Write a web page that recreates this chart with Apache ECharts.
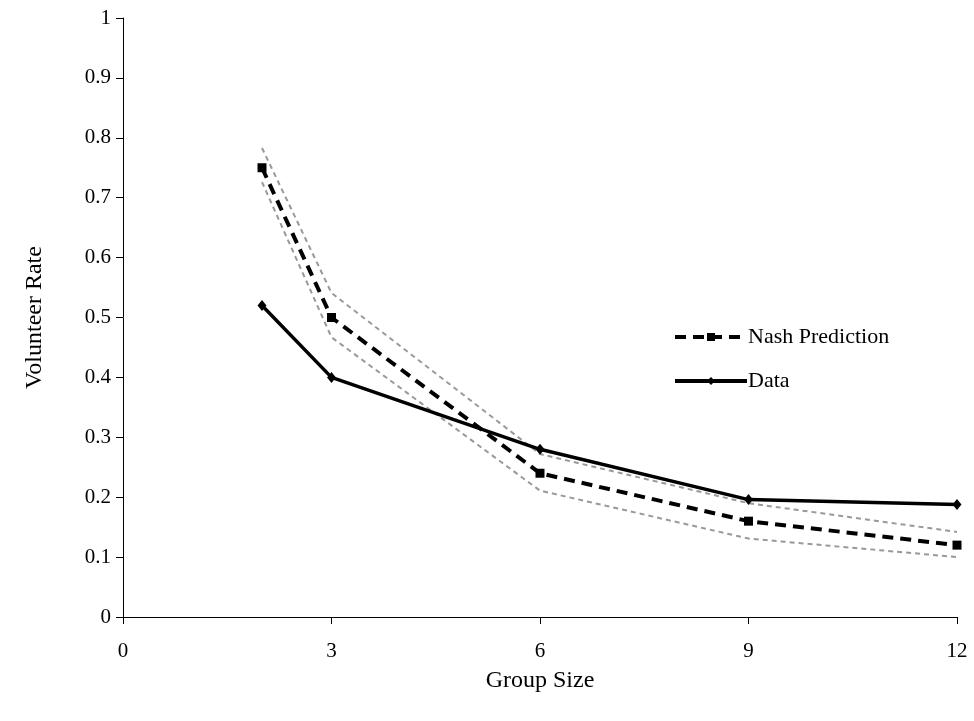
<!DOCTYPE html>
<html>
<head>
<meta charset="utf-8">
<script src="https://cdn.jsdelivr.net/npm/echarts@6/dist/echarts.min.js"></script>
<style>
  html, body { margin: 0; padding: 0; background: #fff; }
  #chart { width: 974px; height: 721px; }
</style>
</head>
<body>
<div id="chart"></div>
<script>
// group sizes on the x axis
const groupSizes = [2, 3, 6, 9, 12];
// Nash prediction and its bounds
const nashPrediction = [0.75, 0.5, 0.24, 0.16, 0.12];
const nashUpper = [0.783, 0.541, 0.272, 0.19, 0.142];
const nashLower = [0.726, 0.467, 0.211, 0.131, 0.1];
// observed volunteer rate
const observed = [0.52, 0.4, 0.28, 0.196, 0.188];

const xTicks = [0, 3, 6, 9, 12];

function pairs(ys) {
  return groupSizes.map((x, i) => [x, ys[i]]);
}

const chart = echarts.init(document.getElementById('chart'));
const font = '"Liberation Serif", "Times New Roman", serif';

const boundStyle = {
  type: 'line',
  symbol: 'none',
  silent: true,
  lineStyle: { color: '#999', width: 2, type: [5, 4] },
  z: 1
};

chart.setOption({
  animation: false,
  textStyle: { fontFamily: font },
  grid: { left: 123, right: 17, top: 18, bottom: 104, outerBoundsMode: 'none', containLabel: false },
  legend: {
    orient: 'vertical',
    left: 668,
    top: 321,
    itemWidth: 72,
    itemHeight: 10,
    itemGap: 22,
    textStyle: { fontFamily: font, fontSize: 22, color: '#000', padding: [0, 0, 0, -4] },
    data: [
      { name: 'Nash Prediction', lineStyle: { width: 4 } },
      { name: 'Data', lineStyle: { width: 4 } }
    ]
  },
  xAxis: {
    type: 'value',
    min: 0,
    max: 12,
    interval: 3,
    name: 'Group Size',
    nameLocation: 'middle',
    nameGap: 52,
    nameTextStyle: { fontFamily: font, fontSize: 24, color: '#000' },
    axisLine: { lineStyle: { color: '#000', width: 1 } },
    axisTick: { show: true, length: 7, lineStyle: { color: '#000' } },
    axisLabel: {
      fontFamily: font, fontSize: 21, color: '#000', margin: 24,
      formatter: v => xTicks.includes(v) ? String(v) : ''
    },
    splitLine: { show: false }
  },
  yAxis: {
    type: 'value',
    min: 0,
    max: 1,
    interval: 0.1,
    name: 'Volunteer Rate',
    nameLocation: 'middle',
    nameGap: 76,
    nameTextStyle: { fontFamily: font, fontSize: 24, color: '#000' },
    axisLine: { show: true, lineStyle: { color: '#000', width: 1 } },
    axisTick: { show: true, length: 7, lineStyle: { color: '#000' } },
    axisLabel: {
      fontFamily: font, fontSize: 21, color: '#000', margin: 12,
      formatter: v => String(Math.round(v * 10) / 10)
    },
    splitLine: { show: false }
  },
  series: [
    Object.assign({ name: 'upper', data: pairs(nashUpper) }, boundStyle),
    Object.assign({ name: 'lower', data: pairs(nashLower) }, boundStyle),
    {
      name: 'Nash Prediction',
      type: 'line',
      data: pairs(nashPrediction),
      symbol: 'rect',
      symbolSize: 9,
      itemStyle: { color: '#000' },
      lineStyle: { color: '#000', width: 4, type: [11, 7] },
      z: 3
    },
    {
      name: 'Data',
      type: 'line',
      data: pairs(observed),
      symbol: 'diamond',
      symbolSize: [9, 11],
      itemStyle: { color: '#000' },
      lineStyle: { color: '#000', width: 3.5 },
      z: 4
    }
  ]
});
</script>
</body>
</html>
